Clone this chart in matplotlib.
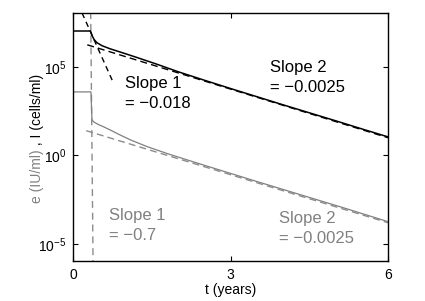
import numpy as np
import matplotlib
matplotlib.use("Agg")
import matplotlib.pyplot as plt

plt.rcParams['font.family'] = ['Liberation Sans', 'DejaVu Sans']
plt.rcParams['mathtext.fontset'] = 'custom'
plt.rcParams['mathtext.rm'] = 'Liberation Sans'

# black curve: I (cells/ml), values as log10
t_I = [0, 0.33, 0.36, 0.40, 0.45, 0.55, 0.7, 0.9, 1.2, 1.6, 2.0, 2.5, 3.0, 3.5, 4.0, 4.5, 5.0, 5.5, 6.0]
logI = [7.03, 7.03, 6.78, 6.55, 6.38, 6.20, 6.03, 5.84, 5.55, 5.15, 4.73, 4.25, 3.78, 3.32, 2.86, 2.41, 1.96, 1.50, 1.05]

# gray curve: e (IU/ml)
t_e = [0, 0.34, 0.36, 0.40, 0.48, 0.58, 0.72, 0.9, 1.1, 1.4, 1.8, 2.3, 2.8, 3.4, 4.0, 4.6, 5.2, 6.0]
loge = [3.59, 3.59, 2.0, 1.88, 1.75, 1.62, 1.42, 1.15, 0.87, 0.51, 0.10, -0.37, -0.83, -1.38, -1.92, -2.46, -3.00, -3.74]

# fitted slope lines (end points, log10)
I_slope1_t = [0.17, 0.76]
I_slope1_log = [8.05, 4.15]
I_slope2_t = [0.27, 6.0]
I_slope2_log = [6.25, 1.0]
e_slope1_t = [0.335, 0.38]
e_slope1_log = [8.1, -6.0]
e_slope2_t = [0.25, 6.0]
e_slope2_log = [1.40, -3.80]

gray = '#808080'
lgray = '#8c8c8c'

fig = plt.figure(figsize=(4.25, 3.01), dpi=100)
ax = fig.add_axes([0.172, 0.133, 0.741, 0.824])

def p(v):
    return 10.0 ** np.array(v)

ax.plot(e_slope1_t, p(e_slope1_log), color=lgray, lw=1.0, dashes=(5, 3.5))
ax.plot(t_e, p(loge), color=gray, lw=0.9)
ax.plot(e_slope2_t, p(e_slope2_log), color=lgray, lw=1.0, dashes=(5, 3))
ax.plot(t_I, p(logI), color='black', lw=1.1)
ax.plot(I_slope1_t, p(I_slope1_log), color='black', lw=1.0, dashes=(4, 3))
ax.plot(I_slope2_t, p(I_slope2_log), color='black', lw=1.0, dashes=(5, 3))

ax.set_yscale('log')
ax.set_xlim(0, 6)
ax.set_ylim(10 ** -5.96, 10 ** 8.05)
ax.set_xticks([0, 3, 6])
ax.set_yticks([1e-5, 1, 1e5])
ax.minorticks_off()
ax.tick_params(direction='in', top=True, right=True, labelsize=10, length=3.5, width=0.8, pad=5)
for s in ax.spines.values():
    s.set_linewidth(1.0)

ax.set_xlabel('t (years)', fontsize=10, labelpad=1)

# slope annotations
fs = 12
ax.text(0.99, p(3.81), 'Slope 1', fontsize=fs, color='black')
ax.text(0.99, p(2.68), '= \u22120.018', fontsize=fs, color='black')
ax.text(3.76, p(4.70), 'Slope 2', fontsize=fs, color='black')
ax.text(3.76, p(3.59), '= \u22120.0025', fontsize=fs, color='black')
ax.text(0.69, p(-3.64), 'Slope 1', fontsize=fs, color=gray)
ax.text(0.69, p(-4.77), '= \u22120.7', fontsize=fs, color=gray)
ax.text(3.93, p(-3.81), 'Slope 2', fontsize=fs, color=gray)
ax.text(3.93, p(-4.94), '= \u22120.0025', fontsize=fs, color=gray)

# two-coloured y label
ylab = fig.text(37 / 425, (301 - 203) / 301, 'e (IU/ml)', rotation=90, fontsize=10,
                color=gray, ha='center', va='bottom')
fig.canvas.draw()
ax.annotate(' , I (cells/ml)', xy=(0.5, 1), xycoords=ylab, rotation=90, fontsize=10,
            color='black', ha='center', va='bottom')

fig.savefig('out.png', dpi=100)
